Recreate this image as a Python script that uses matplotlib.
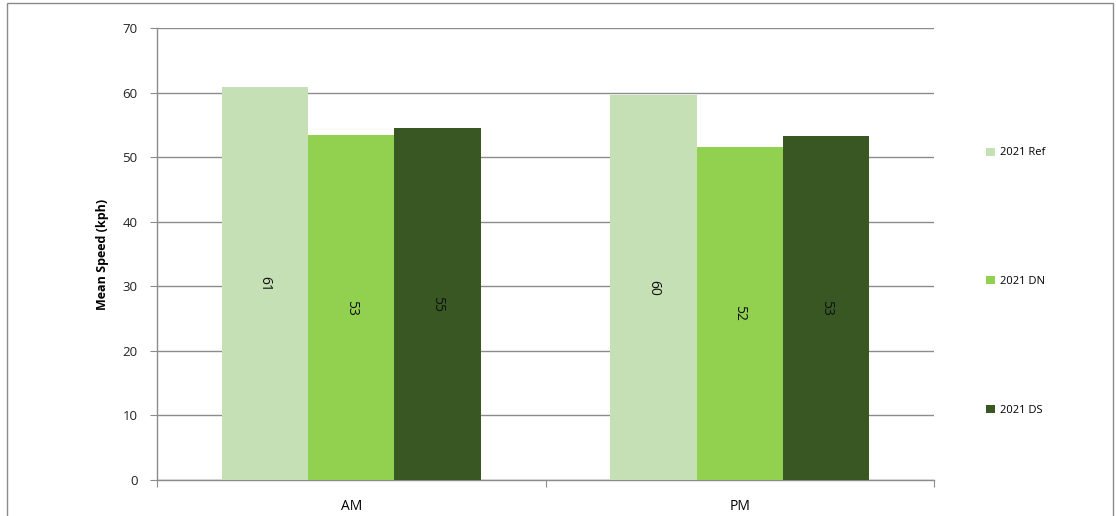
import matplotlib
matplotlib.use("Agg")
import matplotlib.pyplot as plt
from matplotlib.patches import Rectangle, Patch
import numpy as np

categories = ["AM", "PM"]
series_names = ["2021 Ref", "2021 DN", "2021 DS"]
ref_vals = [60.8, 59.6]
dn_vals = [53.4, 51.6]
ds_vals = [54.5, 53.2]
ref_labels = ["61", "60"]
dn_labels = ["53", "52"]
ds_labels = ["55", "53"]
colors = ["#C5E0B4", "#92D050", "#385723"]

plt.rcParams['font.family'] = ['Open Sans', 'DejaVu Sans']

fig = plt.figure(figsize=(11.16, 5.16), dpi=100)
ax = fig.add_axes([157/1116, 1 - 480/516, (934-157)/1116, (480-28)/516])

x = np.arange(len(categories))
w = 1/4.5
grid_c = "#8C8C8C"
all_vals = [ref_vals, dn_vals, ds_vals]
all_labels = [ref_labels, dn_labels, ds_labels]
for i, (vals, labs) in enumerate(zip(all_vals, all_labels)):
    pos = x + (i - 1) * w
    bars = ax.bar(pos, vals, width=w, color=colors[i], zorder=3, linewidth=0)
    for b, lab in zip(bars, labs):
        ax.text(b.get_x() + b.get_width()/2, b.get_height()/2, lab,
                rotation=-90, ha='center', va='center', fontsize=10,
                color='#111111', zorder=4)

ax.set_xlim(-0.5, len(categories) - 0.5)
ax.set_ylim(0, 70)
ax.set_yticks(np.arange(0, 71, 10))
ax.yaxis.grid(True, color=grid_c, linewidth=1.0, zorder=0)
ax.set_axisbelow(True)

ax.set_xticks(np.arange(-0.5, len(categories), 1.0))
ax.set_xticklabels([])
ax.set_xticks(x, minor=True)
ax.set_xticklabels(categories, minor=True, fontsize=10)
ax.tick_params(axis='x', which='major', length=5, color=grid_c, direction='out')
ax.tick_params(axis='x', which='minor', length=0, pad=14)
ax.tick_params(axis='y', length=5, color=grid_c, labelsize=9.5, pad=9, labelcolor='#222222')

for s in ['top', 'right']:
    ax.spines[s].set_visible(False)
for s in ['left', 'bottom']:
    ax.spines[s].set_color(grid_c)
    ax.spines[s].set_linewidth(1.0)

ax.set_ylabel("Mean Speed (kph)", fontsize=9, fontweight='bold', labelpad=10)

handles = [Patch(facecolor=c, edgecolor='none') for c in colors]
fig.legend(handles, series_names, loc='upper left',
           bbox_to_anchor=(982/1116, 1 - 143/516), frameon=False,
           fontsize=8, labelspacing=10.6, handlelength=0.75, handleheight=0.75,
           handletextpad=0.5, borderaxespad=0)

# outer frame of chart area
fig.patches.append(Rectangle((7/1116, -0.1), (1113-7)/1116, 1.1 - 3/516,
                             transform=fig.transFigure, fill=False,
                             edgecolor="#8A8A8A", linewidth=1.0))

fig.savefig("out.png", dpi=100)
